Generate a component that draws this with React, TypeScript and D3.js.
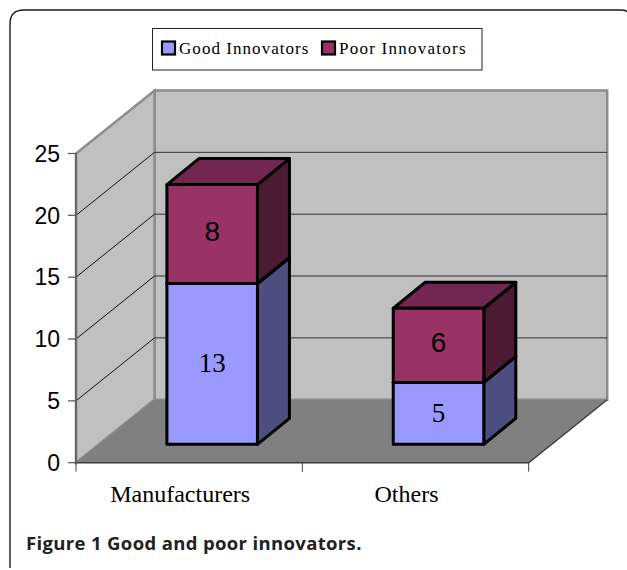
import React from 'react';
import * as d3 from 'd3';

const categories = ['Manufacturers', 'Others'];
const goodInnovators = [13, 5];
const poorInnovators = [8, 6];
const yTicks = [0, 5, 10, 15, 20, 25];

const seriesNames = ['Good Innovators', 'Poor Innovators'];
const seriesColors = [
  { front: '#9999ff', top: '#73739f', side: '#4d4d80' },
  { front: '#993366', top: '#732650', side: '#4d1a33' },
];

const W = 627;
const H = 570;

const y = d3.scaleLinear().domain([0, 25]).range([462.7, 153.5]);
const x = d3.scaleBand().domain(categories).range([76, 528.7]).paddingInner(0.6).paddingOuter(0.3);

// oblique projection: depth of the 3d box
const depthX = 78.5;
const depthY = -63;
const barDepthX = 32;
const barDepthY = -26;
const barOffsetX = 23;
const barOffsetY = -18.4;

const poly = (pts: number[][]) => d3.line()(pts as [number, number][]) + 'Z';

const sans = '"Liberation Sans", Arial, sans-serif';
const serif = '"Liberation Serif", "Times New Roman", serif';

const App = () => {
  const x0 = x.range()[0];
  const x1 = x.range()[1];
  const y0 = y(0);
  const yTop = y(25);

  const stacks = d3.stack().keys(['good', 'poor'])(
    categories.map((c, i) => ({ good: goodInnovators[i], poor: poorInnovators[i] })) as any
  );

  return (
    <svg width={W} height={H} style={{ position: 'absolute', left: 0, top: 0 }}>
      <rect width={W} height={H} fill="#fff" />
      {/* card outline, open at the bottom */}
      <path d="M10,568 V24 Q10,10 24,10 H622 Q626,10 627,12" fill="none" stroke="#1a1a1a" strokeWidth={1.4} />

      {/* legend */}
      <rect x={152.5} y={28.5} width={329.5} height={41.5} fill="#fff" stroke="#222" strokeWidth={1} />
      <rect x={162} y={41.5} width={13} height={13} fill={seriesColors[0].front} stroke="#000" strokeWidth={2.2} />
      <text x={179} y={53.5} fontFamily={serif} fontSize={17} letterSpacing={1.05} fill="#000">{seriesNames[0]}</text>
      <rect x={322} y={41.5} width={13} height={13} fill={seriesColors[1].front} stroke="#000" strokeWidth={2.2} />
      <text x={339} y={53.5} fontFamily={serif} fontSize={17} letterSpacing={1.25} fill="#000">{seriesNames[1]}</text>

      {/* walls and floor */}
      <path d={poly([[x0 + depthX, yTop + depthY], [x1 + depthX, yTop + depthY], [x1 + depthX, y0 + depthY], [x0 + depthX, y0 + depthY]])} fill="#c0c0c0" stroke="#8c8c8c" strokeWidth={2.5} />
      <path d={poly([[x0, y0], [x0, yTop], [x0 + depthX, yTop + depthY], [x0 + depthX, y0 + depthY]])} fill="#c0c0c0" stroke="#8c8c8c" strokeWidth={2.5} />
      <path d={poly([[x0, y0], [x1, y0], [x1 + depthX, y0 + depthY], [x0 + depthX, y0 + depthY]])} fill="#808080" />

      {/* gridlines */}
      {yTicks.slice(1, -1).map((t) => (
        <g key={t}>
          <path d={`M${x0},${y(t)}L${x0 + depthX},${y(t) + depthY}`} fill="none" stroke="#111" strokeWidth={1} />
          <path d={`M${x0 + depthX},${y(t) + depthY}H${x1 + depthX}`} fill="none" stroke="#333" strokeWidth={1} />
        </g>
      ))}

      {/* axes */}
      <path d={`M${x0},${yTop}V${y0}H${x1}L${x1 + depthX},${y0 + depthY}`} fill="none" stroke="#3c3c3c" strokeWidth={1.4} />
      <path d={`M${x0},${yTop}V${y0}`} fill="none" stroke="#666" strokeWidth={2} />
      {yTicks.map((t) => (
        <g key={t}>
          <path d={`M${x0 - 8},${y(t)}H${x0}`} stroke="#555" strokeWidth={1.2} />
          <text x={60} y={y(t)} dy="0.36em" textAnchor="end" fontFamily={sans} fontSize={23} fill="#000">{t}</text>
        </g>
      ))}
      {[x0, (x0 + x1) / 2, x1].map((tx) => (
        <path key={tx} d={`M${tx},${y0}v9`} stroke="#444" strokeWidth={1} />
      ))}
      {categories.map((c) => (
        <text key={c} x={x(c)! + x.bandwidth() / 2 - 9} y={502} textAnchor="middle" fontFamily={serif} fontSize={24} fill="#000">{c}</text>
      ))}

      {/* stacked 3d bars */}
      {categories.map((c, i) => {
        const bx0 = x(c)! + barOffsetX;
        const bx1 = bx0 + x.bandwidth();
        return (
          <g key={c}>
            {stacks.map((s, k) => {
              const top = y(s[i][1]) + barOffsetY;
              const bottom = y(s[i][0]) + barOffsetY;
              const col = seriesColors[k];
              const value = s[i][1] - s[i][0];
              return (
                <g key={k} stroke="#000" strokeWidth={3} strokeLinejoin="round">
                  <path d={poly([[bx1, bottom], [bx1, top], [bx1 + barDepthX, top + barDepthY], [bx1 + barDepthX, bottom + barDepthY]])} fill={col.side} />
                  <path d={poly([[bx0, top], [bx1, top], [bx1 + barDepthX, top + barDepthY], [bx0 + barDepthX, top + barDepthY]])} fill={col.top} />
                  <rect x={bx0} y={top} width={x.bandwidth()} height={bottom - top} fill={col.front} />
                  <text
                    x={(bx0 + bx1) / 2}
                    y={(top + bottom) / 2 + (k === 0 ? -1.5 : -3)}
                    dy="0.36em"
                    textAnchor="middle"
                    stroke="none"
                    fill="#000"
                    fontFamily={k === 0 ? serif : sans}
                    fontSize={k === 0 ? 27 : 28}
                  >
                    {value}
                  </text>
                </g>
              );
            })}
          </g>
        );
      })}

      <text x={26} y={549.5} fontFamily='"Open Sans", "Noto Sans", sans-serif' fontWeight={700} fontSize={18.5} letterSpacing={0.35} fill="#222">
        Figure 1 Good and poor innovators.
      </text>
    </svg>
  );
};

export default App;
